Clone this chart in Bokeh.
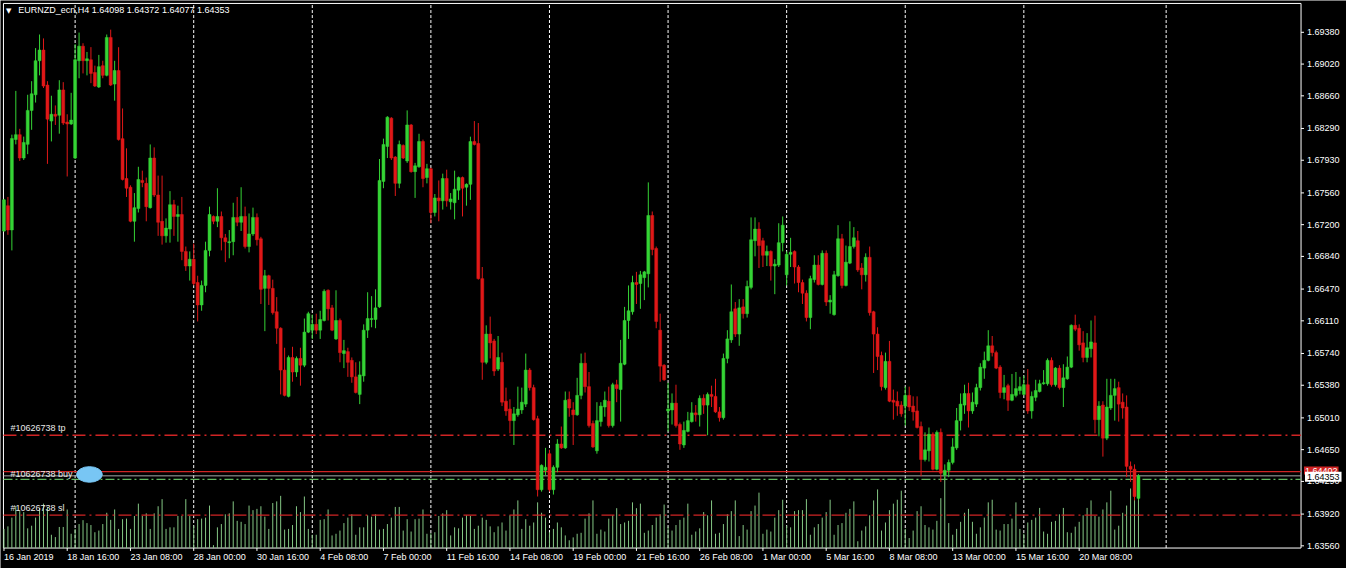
from bokeh.plotting import figure
from bokeh.models import ColumnDataSource, Range1d, Label, LabelSet
from bokeh.core.properties import value
from bokeh.embed import file_html
from bokeh.resources import INLINE

# ---------------- data ----------------
symbol = "EURNZD_ecn"
timeframe = "H4"

opens = [
    1.67129, 1.67415, 1.67140, 1.68165, 1.68220, 1.67955, 1.68110, 1.68495, 1.68672, 1.69058,
    1.69179, 1.68782, 1.68374, 1.68451, 1.68440, 1.68727, 1.68363, 1.68341, 1.67955, 1.69058,
    1.69223, 1.69058, 1.69069, 1.68925, 1.68760, 1.69002, 1.68892, 1.69322, 1.68793, 1.68947,
    1.68175, 1.67723, 1.67624, 1.67238, 1.67382, 1.67701, 1.67668, 1.67393, 1.67955, 1.67536,
    1.67238, 1.67073, 1.67150, 1.67426, 1.67293, 1.67315, 1.66897, 1.66731, 1.66808, 1.66544,
    1.66290, 1.66511, 1.66908, 1.67293, 1.67238, 1.67293, 1.67051, 1.66996, 1.67007, 1.67282,
    1.67227, 1.67293, 1.66952, 1.67095, 1.67282, 1.67040, 1.66478, 1.66621, 1.66478, 1.66213,
    1.66026, 1.65552, 1.65254, 1.65695, 1.65530, 1.65684, 1.65607, 1.65982, 1.66004, 1.66070,
    1.66004, 1.66114, 1.66456, 1.66257, 1.65905, 1.66114, 1.65739, 1.65761, 1.65662, 1.65475,
    1.65276, 1.65486, 1.66004, 1.66125, 1.66125, 1.66268, 1.67690, 1.68087, 1.68407, 1.67966,
    1.67668, 1.68098, 1.67922, 1.68330, 1.67801, 1.67856, 1.68142, 1.67734, 1.67834, 1.67338,
    1.67503, 1.67470, 1.67723, 1.67459, 1.67448, 1.67591, 1.67734, 1.67624, 1.67657, 1.68142,
    1.68120, 1.66588, 1.65640, 1.65960, 1.65882, 1.65563, 1.65640, 1.65199, 1.65111, 1.64979,
    1.65045, 1.65100, 1.65166, 1.65552, 1.65353, 1.65001, 1.64196, 1.64416, 1.64604, 1.64196,
    1.64450, 1.64714, 1.64670, 1.65221, 1.65100, 1.65045, 1.65265, 1.65629, 1.65364, 1.64946,
    1.64637, 1.64968, 1.65133, 1.65199, 1.64923, 1.65386, 1.65331, 1.65618, 1.66114, 1.66213,
    1.66544, 1.66533, 1.66599, 1.66643, 1.67304, 1.66930, 1.66004, 1.65607, 1.65089, 1.65100,
    1.65177, 1.64935, 1.64703, 1.64857, 1.64968, 1.65067, 1.65045, 1.65232, 1.65155, 1.65276,
    1.65254, 1.65078, 1.65012, 1.65684, 1.65894, 1.66246, 1.65960, 1.66268, 1.66191, 1.66489,
    1.67018, 1.67150, 1.67018, 1.66853, 1.66897, 1.66731, 1.66742, 1.66996, 1.66632, 1.66864,
    1.66897, 1.66720, 1.66544, 1.66423, 1.66147, 1.66577, 1.66742, 1.66522, 1.66875, 1.66323,
    1.66180, 1.66621, 1.67040, 1.66511, 1.66764, 1.66952, 1.67018, 1.66709, 1.66632, 1.66830,
    1.66213, 1.65960, 1.65717, 1.65353, 1.65651, 1.65210, 1.65199, 1.65155, 1.65144, 1.65265,
    1.65144, 1.65089, 1.64912, 1.64538, 1.64637, 1.64824, 1.64428, 1.64846, 1.64361, 1.64416,
    1.64505, 1.64670, 1.64979, 1.65155, 1.65287, 1.65089, 1.65166, 1.65353, 1.65574, 1.65662,
    1.65827, 1.65750, 1.65585, 1.65298, 1.65375, 1.65210, 1.65265, 1.65320, 1.65276, 1.65386,
    1.65089, 1.65243, 1.65309, 1.65397, 1.65397, 1.65662, 1.65386, 1.65574, 1.65353, 1.65453,
    1.65585, 1.66059, 1.66026, 1.65860, 1.65695, 1.65794, 1.65860, 1.64990, 1.65155, 1.64780,
    1.65122, 1.65265, 1.65353, 1.65188, 1.65133, 1.64461, 1.64428, 1.64098,
]

highs = [
    1.67492, 1.67514, 1.68220, 1.68716, 1.68286, 1.68198, 1.68672, 1.68826, 1.69201, 1.69355,
    1.69311, 1.68826, 1.68661, 1.68551, 1.68837, 1.68815, 1.68451, 1.68694, 1.69245, 1.69377,
    1.69256, 1.69157, 1.69212, 1.69002, 1.69124, 1.69058, 1.69355, 1.69410, 1.69057, 1.69211,
    1.68517, 1.68065, 1.67646, 1.67558, 1.67856, 1.67812, 1.67734, 1.68109, 1.68076, 1.67756,
    1.67756, 1.67271, 1.67580, 1.67481, 1.67415, 1.67514, 1.66952, 1.66897, 1.66985, 1.66621,
    1.66566, 1.67007, 1.67404, 1.67304, 1.67613, 1.67349, 1.67095, 1.67139, 1.67448, 1.67514,
    1.67624, 1.67404, 1.67327, 1.67393, 1.67327, 1.67062, 1.66687, 1.66632, 1.66577, 1.66379,
    1.66037, 1.65805, 1.65717, 1.65816, 1.65706, 1.65805, 1.66136, 1.66213, 1.66180, 1.66191,
    1.66224, 1.66467, 1.66467, 1.66290, 1.66456, 1.66136, 1.65894, 1.65805, 1.65695, 1.65640,
    1.65651, 1.66070, 1.66434, 1.66390, 1.66467, 1.67944, 1.68175, 1.68429, 1.68418, 1.67977,
    1.68153, 1.68109, 1.68495, 1.68341, 1.67900, 1.68230, 1.68164, 1.67889, 1.67845, 1.67547,
    1.67701, 1.67778, 1.67823, 1.67558, 1.67812, 1.67745, 1.67745, 1.67668, 1.68197, 1.68374,
    1.68352, 1.66720, 1.66059, 1.66158, 1.65905, 1.65938, 1.65750, 1.65353, 1.65221, 1.65133,
    1.65364, 1.65353, 1.65739, 1.65574, 1.65386, 1.65034, 1.64483, 1.64670, 1.64648, 1.64472,
    1.64769, 1.64912, 1.65309, 1.65309, 1.65188, 1.65464, 1.65739, 1.65750, 1.65530, 1.64979,
    1.65188, 1.65188, 1.65309, 1.65364, 1.65408, 1.65442, 1.65894, 1.66268, 1.66511, 1.66621,
    1.66665, 1.66676, 1.66676, 1.67679, 1.67349, 1.66952, 1.66191, 1.65618, 1.65408, 1.65287,
    1.65386, 1.64957, 1.64968, 1.65078, 1.65188, 1.65155, 1.65265, 1.65276, 1.65298, 1.65375,
    1.65453, 1.65133, 1.65739, 1.66004, 1.66522, 1.66323, 1.66356, 1.66356, 1.66566, 1.67282,
    1.67282, 1.67227, 1.67051, 1.66963, 1.66908, 1.66808, 1.67216, 1.67293, 1.66897, 1.67051,
    1.66908, 1.66742, 1.66577, 1.66456, 1.66621, 1.66853, 1.66853, 1.66908, 1.66908, 1.66401,
    1.66676, 1.67194, 1.67095, 1.66963, 1.67238, 1.67172, 1.67128, 1.66764, 1.66875, 1.66952,
    1.66224, 1.66037, 1.65761, 1.65750, 1.65882, 1.65331, 1.65309, 1.65199, 1.65364, 1.65364,
    1.65254, 1.65254, 1.64968, 1.64846, 1.64901, 1.64846, 1.64868, 1.64890, 1.64483, 1.64538,
    1.64780, 1.65122, 1.65287, 1.65386, 1.65408, 1.65298, 1.65397, 1.65629, 1.65761, 1.66004,
    1.65938, 1.65772, 1.65607, 1.65497, 1.65397, 1.65508, 1.65530, 1.65475, 1.65486, 1.65563,
    1.65309, 1.65442, 1.65442, 1.65552, 1.65684, 1.65695, 1.65585, 1.65607, 1.65618, 1.65706,
    1.66070, 1.66180, 1.66070, 1.65993, 1.65971, 1.66114, 1.66169, 1.65199, 1.65199, 1.65453,
    1.65453, 1.65453, 1.65420, 1.65287, 1.65265, 1.64516, 1.64483, 1.64372,
]

lows = [
    1.67118, 1.67085, 1.66908, 1.68110, 1.67922, 1.67933, 1.67999, 1.68275, 1.68584, 1.68892,
    1.68749, 1.67889, 1.68143, 1.68330, 1.68231, 1.68330, 1.67746, 1.68330, 1.67944, 1.68859,
    1.68914, 1.68892, 1.68804, 1.68760, 1.68749, 1.68859, 1.68881, 1.68771, 1.68605, 1.68153,
    1.67701, 1.67514, 1.67227, 1.67007, 1.67338, 1.67624, 1.67238, 1.67382, 1.67514, 1.67073,
    1.66974, 1.66996, 1.66996, 1.67073, 1.67007, 1.66797, 1.66676, 1.66566, 1.66511, 1.66103,
    1.66224, 1.66434, 1.66841, 1.67205, 1.67172, 1.66908, 1.66775, 1.66819, 1.66853, 1.67183,
    1.67128, 1.66930, 1.66886, 1.67073, 1.66963, 1.66301, 1.65993, 1.66290, 1.66180, 1.65849,
    1.65276, 1.65254, 1.65243, 1.65420, 1.65475, 1.65375, 1.65585, 1.65971, 1.65905, 1.65960,
    1.65905, 1.66103, 1.66114, 1.65993, 1.65894, 1.65640, 1.65574, 1.65475, 1.65408, 1.65287,
    1.65166, 1.65420, 1.65916, 1.66037, 1.66026, 1.66257, 1.67613, 1.67955, 1.67933, 1.67525,
    1.67613, 1.67944, 1.67900, 1.67789, 1.67503, 1.67845, 1.67624, 1.67668, 1.67216, 1.67293,
    1.67238, 1.67371, 1.67404, 1.67371, 1.67260, 1.67481, 1.67293, 1.67415, 1.67481, 1.68098,
    1.66577, 1.65442, 1.65618, 1.65684, 1.65486, 1.65541, 1.65144, 1.65034, 1.64835, 1.64703,
    1.65023, 1.65056, 1.65133, 1.65320, 1.64979, 1.64119, 1.64174, 1.64361, 1.64174, 1.64141,
    1.64394, 1.64659, 1.64659, 1.65023, 1.64703, 1.65034, 1.65221, 1.65298, 1.64901, 1.64670,
    1.64604, 1.64912, 1.65023, 1.64901, 1.64901, 1.65188, 1.64968, 1.65607, 1.65905, 1.66180,
    1.66301, 1.66246, 1.66345, 1.66489, 1.66853, 1.66026, 1.65420, 1.65431, 1.64857, 1.64935,
    1.64901, 1.64648, 1.64670, 1.64846, 1.64957, 1.64968, 1.64912, 1.65056, 1.64813, 1.65133,
    1.65067, 1.64968, 1.64990, 1.65629, 1.65860, 1.65927, 1.65827, 1.66136, 1.66147, 1.66467,
    1.66841, 1.66709, 1.66720, 1.66731, 1.66566, 1.66412, 1.66720, 1.66897, 1.66511, 1.66720,
    1.66533, 1.66434, 1.66301, 1.66103, 1.66015, 1.66544, 1.66511, 1.66511, 1.66279, 1.66191,
    1.66169, 1.66610, 1.66478, 1.66500, 1.66753, 1.66930, 1.66665, 1.66467, 1.66555, 1.66169,
    1.65519, 1.65552, 1.65320, 1.65331, 1.65188, 1.64990, 1.65034, 1.65023, 1.64923, 1.65089,
    1.64979, 1.64890, 1.64350, 1.64516, 1.64516, 1.64416, 1.64416, 1.64284, 1.64306, 1.64339,
    1.64483, 1.64648, 1.64868, 1.65056, 1.64901, 1.65056, 1.65133, 1.65320, 1.65453, 1.65651,
    1.65706, 1.65563, 1.65232, 1.65221, 1.65089, 1.65199, 1.65243, 1.65276, 1.65265, 1.65056,
    1.65001, 1.65199, 1.65298, 1.65386, 1.65375, 1.65364, 1.65364, 1.65331, 1.65133, 1.65442,
    1.65574, 1.65993, 1.65772, 1.65640, 1.65640, 1.65695, 1.64835, 1.64802, 1.64571, 1.64758,
    1.65100, 1.64979, 1.64968, 1.65001, 1.64339, 1.64284, 1.64075, 1.64077,
]

closes = [
    1.67481, 1.67140, 1.68176, 1.68220, 1.67955, 1.68132, 1.68495, 1.68683, 1.69058, 1.69179,
    1.68771, 1.68396, 1.68451, 1.68429, 1.68727, 1.68352, 1.68341, 1.68385, 1.69069, 1.69223,
    1.69058, 1.69080, 1.68914, 1.68771, 1.68991, 1.68892, 1.69322, 1.68782, 1.68947, 1.68164,
    1.67712, 1.67613, 1.67238, 1.67393, 1.67712, 1.67679, 1.67404, 1.67955, 1.67536, 1.67227,
    1.67073, 1.67161, 1.67426, 1.67293, 1.67315, 1.66897, 1.66731, 1.66808, 1.66533, 1.66290,
    1.66511, 1.66908, 1.67315, 1.67238, 1.67293, 1.67051, 1.67007, 1.67007, 1.67282, 1.67227,
    1.67293, 1.66952, 1.67095, 1.67282, 1.67029, 1.66467, 1.66621, 1.66478, 1.66202, 1.66026,
    1.65552, 1.65265, 1.65695, 1.65530, 1.65684, 1.65607, 1.65982, 1.66191, 1.66070, 1.66004,
    1.66125, 1.66445, 1.66246, 1.66004, 1.66114, 1.65750, 1.65772, 1.65640, 1.65475, 1.65298,
    1.65497, 1.66004, 1.66136, 1.66136, 1.66257, 1.67701, 1.68109, 1.68418, 1.67955, 1.67668,
    1.68109, 1.67955, 1.68330, 1.67801, 1.67867, 1.68142, 1.67723, 1.67834, 1.67338, 1.67503,
    1.67470, 1.67723, 1.67470, 1.67492, 1.67602, 1.67734, 1.67613, 1.67657, 1.68142, 1.68109,
    1.66588, 1.65640, 1.65960, 1.65860, 1.65541, 1.65695, 1.65188, 1.65089, 1.64979, 1.65056,
    1.65111, 1.65188, 1.65552, 1.65353, 1.64990, 1.64196, 1.64472, 1.64450, 1.64196, 1.64450,
    1.64714, 1.64670, 1.65210, 1.65122, 1.65045, 1.65265, 1.65629, 1.65364, 1.64923, 1.64681,
    1.64979, 1.65144, 1.65210, 1.64923, 1.65386, 1.65342, 1.65629, 1.66114, 1.66224, 1.66544,
    1.66522, 1.66632, 1.66665, 1.67304, 1.66919, 1.66103, 1.65596, 1.65442, 1.65111, 1.65177,
    1.64923, 1.64714, 1.64868, 1.64979, 1.65067, 1.65045, 1.65232, 1.65155, 1.65276, 1.65254,
    1.65078, 1.65012, 1.65684, 1.65905, 1.66213, 1.65960, 1.66257, 1.66191, 1.66500, 1.67029,
    1.67150, 1.66963, 1.66853, 1.66897, 1.66731, 1.66753, 1.66996, 1.67194, 1.66864, 1.66886,
    1.66720, 1.66544, 1.66423, 1.66147, 1.66588, 1.66742, 1.66522, 1.66875, 1.66323, 1.66345,
    1.66632, 1.67040, 1.66511, 1.66775, 1.66952, 1.67051, 1.66687, 1.66632, 1.66830, 1.66202,
    1.65960, 1.65706, 1.65364, 1.65651, 1.65199, 1.65188, 1.65144, 1.65056, 1.65265, 1.65133,
    1.65078, 1.64901, 1.64538, 1.64648, 1.64824, 1.64428, 1.64846, 1.64383, 1.64416, 1.64505,
    1.64681, 1.64979, 1.65166, 1.65287, 1.65089, 1.65188, 1.65353, 1.65585, 1.65662, 1.65827,
    1.65750, 1.65574, 1.65298, 1.65353, 1.65210, 1.65276, 1.65342, 1.65364, 1.65386, 1.65089,
    1.65254, 1.65320, 1.65397, 1.65408, 1.65662, 1.65386, 1.65574, 1.65353, 1.65464, 1.65585,
    1.66059, 1.66015, 1.65838, 1.65695, 1.65805, 1.65871, 1.64990, 1.65144, 1.64780, 1.65133,
    1.65265, 1.65342, 1.65166, 1.65122, 1.64461, 1.64428, 1.64119, 1.64353,
]

volumes = [
    1970, 2230, 3130, 4300, 3800, 3700, 2030, 2300, 3130, 4130,
    4570, 4230, 1370, 1130, 2170, 2170, 3970, 1470, 1970, 2470,
    2870, 2570, 2370, 1630, 1800, 2470, 3630, 2900, 3970, 1970,
    2970, 3030, 1970, 3300, 4570, 3300, 3570, 1970, 3570, 4300,
    5030, 1970, 2130, 2130, 3300, 3300, 5030, 3300, 2300, 2970,
    3030, 3130, 4370, 300, 2130, 2470, 3470, 3570, 4800, 2800,
    2700, 2470, 4370, 3900, 4030, 4300, 3230, 1970, 4630, 4800,
    5370, 1900, 1970, 2370, 4300, 3700, 5300, 1970, 1370, 1370,
    2900, 2970, 3970, 1300, 1470, 1800, 2570, 3130, 3470, 1370,
    2130, 2130, 3370, 3230, 3470, 1900, 1970, 2470, 3130, 4230,
    4230, 1800, 2970, 1700, 2970, 3030, 3970, 1470, 1530, 1630,
    3300, 3570, 3900, 1300, 2130, 2030, 3130, 3370, 3300, 1970,
    2300, 3130, 2900, 2230, 1630, 2230, 2630, 1800, 3370, 3970,
    4900, 1970, 2970, 2300, 2630, 4700, 3630, 3130, 1630, 1970,
    2630, 2130, 1300, 800, 1100, 1470, 1570, 3030, 3570, 4900,
    1470, 1900, 1700, 3030, 3370, 4100, 2470, 2630, 2800, 4700,
    4100, 4570, 1570, 1800, 2370, 3130, 3470, 4470, 2200, 1800,
    2370, 2900, 3130, 4570, 1370, 1700, 2030, 3700, 3370, 4900,
    1470, 1570, 2470, 3470, 3800, 4900, 1230, 2370, 1900, 3800,
    4370, 5700, 1470, 1900, 1700, 3130, 3900, 4970, 2300, 2130,
    3800, 3900, 3900, 5030, 1370, 2130, 2470, 3130, 3700, 4970,
    1370, 2370, 2570, 3630, 4030, 4800, 700, 1800, 2230, 3370,
    4900, 6030, 1800, 2630, 3900, 4570, 4970, 5900, 1970, 1030,
    1800, 3800, 4300, 2370, 2130, 1900, 2800, 5130, 7300, 2570,
    1370, 1970, 2700, 3630, 4030, 2700, 1470, 2130, 3130, 4700,
    4970, 1900, 1800, 2470, 2470, 3030, 4700, 1970, 1470, 2630,
    2900, 3130, 4130, 1700, 1470, 2700, 2800, 3470, 4130, 1630,
    1570, 2200, 2700, 3370, 4130, 4900, 3300, 3230, 3970, 4700,
    5900, 1900, 2300, 3630, 4370, 6130, 6200, 5500,
]

date_labels = ["16 Jan 2019", "18 Jan 16:00", "23 Jan 08:00", "28 Jan 00:00", "30 Jan 16:00",
               "4 Feb 08:00", "7 Feb 00:00", "11 Feb 16:00", "14 Feb 08:00", "19 Feb 00:00",
               "21 Feb 16:00", "26 Feb 08:00", "1 Mar 00:00", "5 Mar 16:00", "8 Mar 08:00",
               "13 Mar 00:00", "15 Mar 16:00", "20 Mar 08:00"]
date_label_bars = [0, 16, 32, 48, 64, 80, 96, 112, 128, 144, 160, 176, 192, 208, 224, 240, 256, 272]
week_start_bars = [18, 48, 78, 108, 138, 168, 198, 228, 258, 294]

price_ticks = [1.69380, 1.69020, 1.68660, 1.68290, 1.67930, 1.67560, 1.67200, 1.66840, 1.66470,
               1.66110, 1.65740, 1.65380, 1.65010, 1.64650, 1.64290, 1.63920, 1.63560]

order_id = "10626738"
tp_price = 1.64813
buy_price = 1.64402
be_price = 1.64314
sl_price = 1.63909
bid_price = closes[-1]

# ---------------- geometry (the terminal window, scaled to the canvas) ----------------
W, H = 1346, 568                 # canvas
REF_W, REF_H = 1362, 584         # terminal window it mirrors
SX, SY = W / REF_W, H / REF_H
X_RANGE = (-0.875, 339.625)      # window width in bars (4 px per bar)
Y_RANGE = (1.6330306, 1.6974045) # window height in price
PX_BAR = 0.25                    # one window pixel in bar units
PX_PRICE = 1 / 9072.0            # one window pixel in price units
CHART_L, CHART_R = -0.125, 328.125
CHART_B, CHART_T = 1.63535, 1.69707

BULL = "#35D335"
BEAR = "#E01818"
VOL_COLOR = "#84C684"
LINE_RED = "#D02424"
FONT = "Liberation Sans"
FS = "9px"

n = len(closes)
idx = list(range(n))
body_top = [max(o, c) for o, c in zip(opens, closes)]
body_bot = [min(o, c) for o, c in zip(opens, closes)]
colors = [BULL if c >= o else BEAR for o, c in zip(opens, closes)]

src = ColumnDataSource(dict(x=idx, high=highs, low=lows, top=body_top, bottom=body_bot,
                            color=colors, vol=volumes, zero=[0] * n))

p = figure(width=W, height=H, x_range=Range1d(*X_RANGE), y_range=Range1d(*Y_RANGE),
           x_axis_location=None, y_axis_location=None,
           toolbar_location=None, output_backend="svg",
           min_border_left=0, min_border_top=0, min_border_right=0, min_border_bottom=0,
           background_fill_color="black", border_fill_color="black", outline_line_color=None)
p.grid.visible = False
p.extra_y_ranges = {"vol": Range1d(-(REF_H - 563) * 100, 563 * 100)}

# weekly dashed grid (behind everything)
nw = len(week_start_bars)
p.segment(x0=week_start_bars, y0=[CHART_B] * nw, x1=week_start_bars, y1=[CHART_T] * nw,
          line_color="white", line_dash="3 2", line_width=1, level="underlay")

# chart frame
p.segment(x0=[CHART_L, CHART_L, CHART_R, CHART_L], y0=[CHART_T, CHART_B, CHART_B, CHART_B],
          x1=[CHART_R, CHART_R, CHART_R, CHART_L], y1=[CHART_T, CHART_B, CHART_T, CHART_T],
          line_color="white", line_width=1)

# price scale (right)
nt = len(price_ticks)
p.segment(x0=[CHART_R] * nt, y0=price_ticks, x1=[CHART_R + 3 * PX_BAR] * nt, y1=price_ticks,
          line_color="white", line_width=1)
p.add_layout(LabelSet(x="x", y="y", text="t", x_offset=6 * SX, text_align="left",
                      text_baseline="middle", text_color="white", text_font=value(FONT),
                      text_font_size=value(FS),
                      source=ColumnDataSource(dict(x=[CHART_R] * nt, y=price_ticks,
                                                   t=[f"{v:.5f}" for v in price_ticks]))))

# time scale (bottom)
nd = len(date_label_bars)
p.segment(x0=date_label_bars, y0=[CHART_B] * nd, x1=date_label_bars,
          y1=[CHART_B - 3 * PX_PRICE] * nd, line_color="white", line_width=1)
p.add_layout(LabelSet(x="x", y="y", text="t", y_offset=-4 * SY, text_align="left",
                      text_baseline="top", text_color="white", text_font=value(FONT),
                      text_font_size=value(FS),
                      source=ColumnDataSource(dict(x=date_label_bars, y=[CHART_B] * nd,
                                                   t=date_labels))))

# volumes
p.segment(x0="x", y0="zero", x1="x", y1="vol", source=src, y_range_name="vol",
          line_color=VOL_COLOR, line_width=1)

# order / price lines
def hline(price, color, dash="solid", width=1.0):
    p.segment(x0=[CHART_L], y0=[price], x1=[CHART_R], y1=[price],
              line_color=color, line_dash=dash, line_width=width)

hline(tp_price, LINE_RED, "13 4 2 4", 1.3)
hline(sl_price, LINE_RED, "13 4 2 4", 1.3)
hline(be_price, "#62B862", "9 3 2 3", 1.2)
hline(buy_price, LINE_RED, "solid", 1.2)
hline(bid_price, "#A8A8A8", "solid", 1.0)

# candles
p.segment(x0="x", y0="low", x1="x", y1="high", source=src, line_color="color", line_width=1)
p.vbar(x="x", width=0.75, top="top", bottom="bottom", source=src,
       fill_color="color", line_color="color", line_width=0.5)

# order labels
for txt, price, base, off in [(f"#{order_id} tp", tp_price, "bottom", 2),
                              (f"#{order_id} buy", buy_price, "middle", -2),
                              (f"#{order_id} sl", sl_price, "bottom", 2)]:
    p.add_layout(Label(x=10 * SX, y=price, x_units="screen", y_units="data", text=txt,
                       y_offset=off, text_baseline=base, text_align="left",
                       text_color="#E8E8E8", text_font=FONT, text_font_size=FS))

# light blue blob over the buy label
p.ellipse(x=[21.625], y=[buy_price - 3 * PX_PRICE], width=26 * SX, height=16 * SY,
          width_units="screen", height_units="screen",
          fill_color="#78C6F4", line_color="#78C6F4")

# header
p.add_layout(Label(x=5.5 * SX, y=(REF_H - 10.5) * SY, x_units="screen", y_units="screen",
                   text="\u25BC", text_baseline="middle", text_color="white",
                   text_font="DejaVu Sans", text_font_size="7px"))
header = (f"{symbol},{timeframe}  {opens[-1]:.5f} {highs[-1]:.5f} "
          f"{lows[-1]:.5f} {closes[-1]:.5f}")
p.add_layout(Label(x=18 * SX, y=(REF_H - 10) * SY, x_units="screen", y_units="screen",
                   text=header, text_baseline="middle", text_color="white",
                   text_font=FONT, text_font_size=FS))

# price boxes on the price scale
p.add_layout(Label(x=CHART_R, y=buy_price + 1 * PX_PRICE, x_offset=3 * SX, x_units="data",
                   y_units="data", text=f"{buy_price:.5f}", text_baseline="middle",
                   text_color="white", background_fill_color=LINE_RED, padding=1,
                   text_font=FONT, text_font_size=FS))
p.add_layout(Label(x=CHART_R, y=bid_price - 1 * PX_PRICE, x_offset=4 * SX, x_units="data",
                   y_units="data", text=f"{bid_price:.5f}", text_baseline="middle",
                   text_color="black", background_fill_color="white", padding=2,
                   text_font=FONT, text_font_size=FS))

open("out.html", "w").write(file_html(p, INLINE))
